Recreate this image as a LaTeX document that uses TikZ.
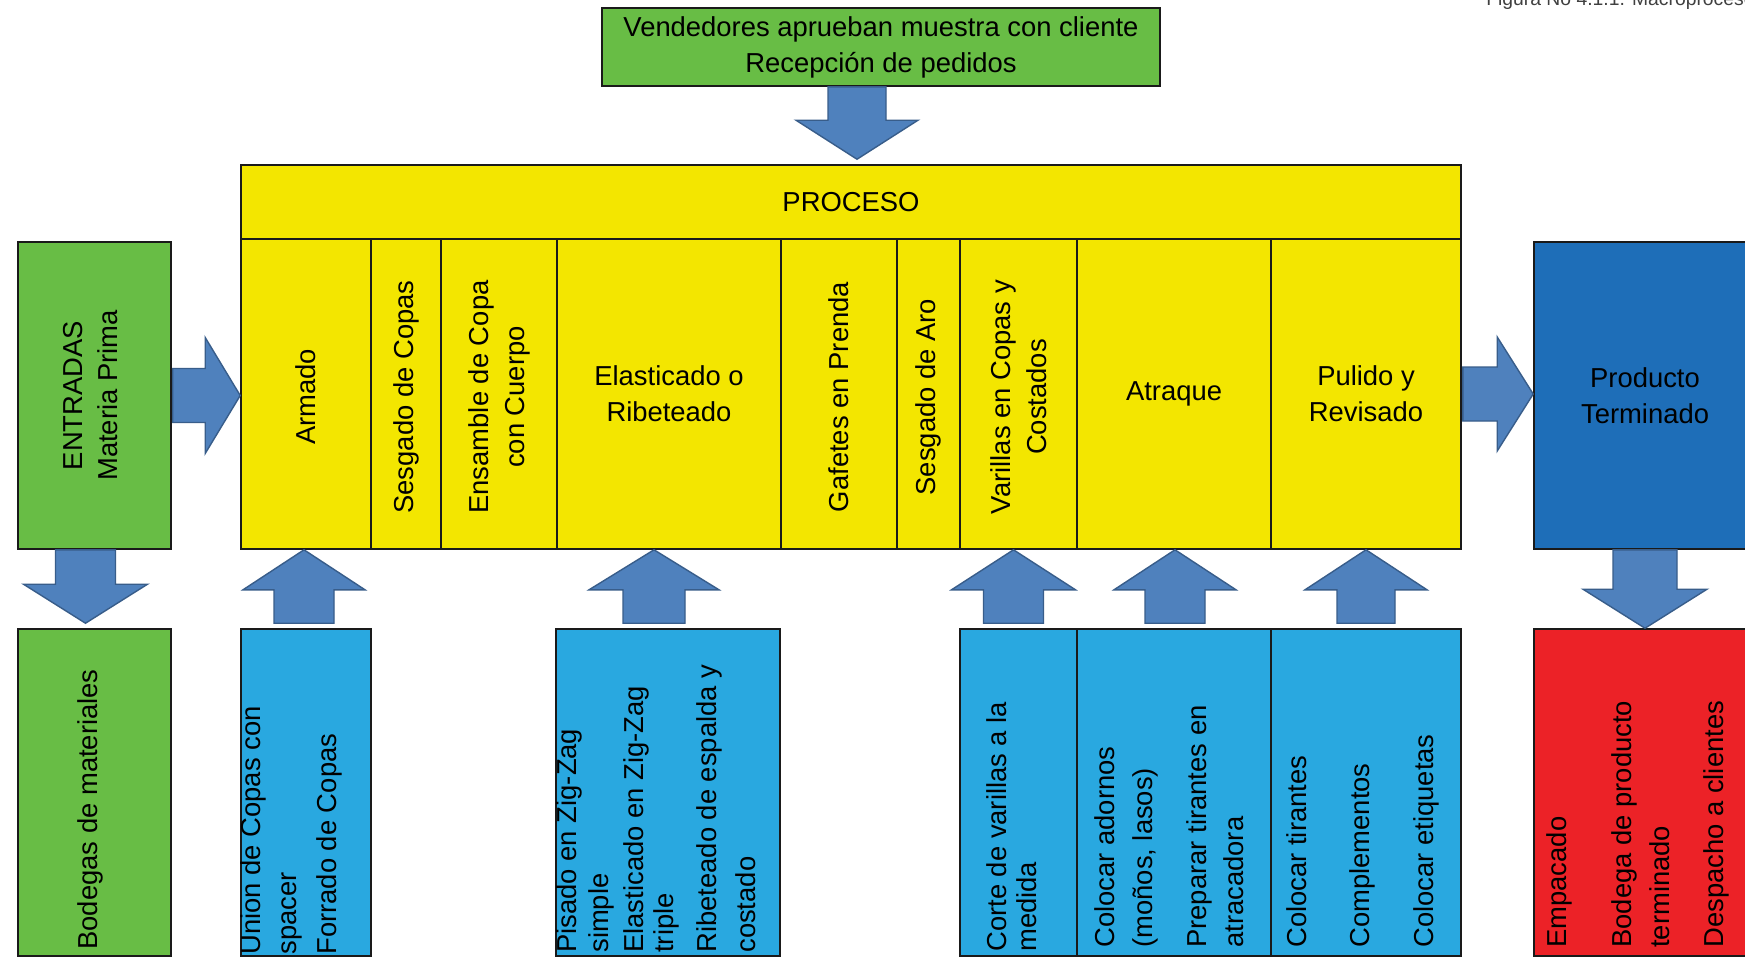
\documentclass[tikz,border=0pt]{standalone}
\usepackage{fontspec}
\setmainfont{Liberation Sans}
\usetikzlibrary{calc,fit}

\definecolor{grn}{HTML}{68BD45}
\definecolor{yel}{HTML}{F3E600}
\definecolor{lblue}{HTML}{29A8E0}
\definecolor{dblue}{HTML}{1E6EB8}
\definecolor{rd}{HTML}{EC2227}
\definecolor{arrfill}{HTML}{4F81BD}
\definecolor{arrline}{HTML}{385D8A}
\definecolor{edge}{HTML}{1A1A1A}

\tikzset{
  cell/.style={draw=edge, line width=0.9pt, inner sep=0pt, fit={#1}},
  greencell/.style={cell={#1}, fill=grn},
  yellowcell/.style={cell={#1}, fill=yel},
  bluecell/.style={cell={#1}, fill=lblue},
  darkcell/.style={cell={#1}, fill=dblue},
  redcell/.style={cell={#1}, fill=rd},
  txt/.style={inner sep=0pt, text=black, align=center,
              font=\fontsize{15.6}{20.4}\selectfont},
  vtxt/.style={txt, rotate=90},
  linetxt/.style={txt, rotate=90, anchor=west},
  captxt/.style={inner sep=0pt, text=black!75, font=\fontsize{11}{13}\selectfont},
  blockarrow/.style={fill=arrfill, draw=arrline, line width=0.8pt, line join=miter},
}

% vertical block arrow: tail, tip, shaft half width, head half width, signed head length
\newcommand{\blkvert}[5]{%
  \draw[blockarrow] ($(#1)+(-#3,0)$) -- ($(#2)+(-#3,#5)$) -- ($(#2)+(-#4,#5)$) -- (#2)
    -- ($(#2)+(#4,#5)$) -- ($(#2)+(#3,#5)$) -- ($(#1)+(#3,0)$) -- cycle;}
% horizontal block arrow: tail, tip, shaft half height, head half height, signed head length
\newcommand{\blkhorz}[5]{%
  \draw[blockarrow] ($(#1)+(0,-#3)$) -- ($(#2)+(#5,-#3)$) -- ($(#2)+(#5,-#4)$) -- (#2)
    -- ($(#2)+(#5,#4)$) -- ($(#2)+(#5,#3)$) -- ($(#1)+(0,#3)$) -- cycle;}

\begin{document}
\begin{tikzpicture}[x=0.02cm, y=-0.02cm]
\path[use as bounding box, fill=white] (0,0) rectangle (1745,958);
\clip (0,0) rectangle (1745,958);

% figure caption, cut by the page edge
\node[captxt, anchor=base west] (cap) at (1486,5) {Figura No 4.1.1. Macroproceso};

% orders box
\node[greencell={(602,8) (1160,86)}] (top) {};
\node[txt] (topT) at (top.center) {Vendedores aprueban muestra con cliente\\Recepción de pedidos};

% process block
\node[yellowcell={(241,165) (1461,239)}] (procHead) {};
\node[txt] (procT) at (procHead.center) {PROCESO};
\node[yellowcell={(241,239) (371,549)}]  (cArm) {};
\node[yellowcell={(371,239) (441,549)}]  (cSes) {};
\node[yellowcell={(441,239) (557,549)}]  (cEns) {};
\node[yellowcell={(557,239) (781,549)}]  (cEla) {};
\node[yellowcell={(781,239) (897,549)}]  (cGaf) {};
\node[yellowcell={(897,239) (960,549)}]  (cSar) {};
\node[yellowcell={(960,239) (1077,549)}] (cVar) {};
\node[yellowcell={(1077,239) (1271,549)}] (cAtr) {};
\node[yellowcell={(1271,239) (1461,549)}] (cPul) {};
\node[vtxt] (lArm) at ($(cArm.center)+(0,3)$) {Armado};
\node[vtxt] (lSes) at ($(cSes.center)+(0,3)$) {Sesgado de Copas};
\node[vtxt] (lEns) at ($(cEns.center)+(0,3)$) {Ensamble de Copa\\con Cuerpo};
\node[txt]  (lEla) at (cEla.center) {Elasticado o\\Ribeteado};
\node[vtxt] (lGaf) at ($(cGaf.center)+(0,3)$) {Gafetes en Prenda};
\node[vtxt] (lSar) at ($(cSar.center)+(0,3)$) {Sesgado de Aro};
\node[vtxt] (lVar) at ($(cVar.center)+(0,3)$) {Varillas en Copas y\\Costados};
\node[txt]  (lAtr) at (cAtr.center) {Atraque};
\node[txt]  (lPul) at (cPul.center) {Pulido y\\Revisado};

% inputs and outputs
\node[greencell={(18,242) (171,549)}] (ent) {};
\node[vtxt] (entT) at ($(ent.center)+(-4,0)$) {ENTRADAS\\Materia Prima};
\node[darkcell={(1534,242) (1756,549)}] (prod) {};
\node[txt] (prodT) at (prod.center) {Producto\\Terminado};

% lower boxes
\node[greencell={(18,629) (171,956)}] (bBod) {};
\node[bluecell={(241,629) (371,956)}] (bArm) {};
\node[bluecell={(556,629) (780,956)}] (bPis) {};
\node[bluecell={(960,629) (1077,956)}] (bCor) {};
\node[bluecell={(1077,629) (1271,956)}] (bAdo) {};
\node[bluecell={(1271,629) (1461,956)}] (bTir) {};
\node[redcell={(1534,629) (1756,956)}] (bRed) {};

\node[linetxt] (tBod) at (90,950) {Bodegas de materiales};

\node[linetxt] (tArm1) at (253,955) {Union de Copas con};
\node[linetxt] (tArm2) at (292,955) {spacer};
\node[linetxt] (tArm3) at (329,955) {Forrado de Copas};

\node[linetxt] (tPis1) at (569,953) {Pisado en Zig-Zag};
\node[linetxt] (tPis2) at (601,953) {simple};
\node[linetxt] (tPis3) at (636,953) {Elasticado en Zig-Zag};
\node[linetxt] (tPis4) at (666,953) {triple};
\node[linetxt] (tPis5) at (709,953) {Ribeteado de espalda y};
\node[linetxt] (tPis6) at (746,953) {costado};

\node[linetxt] (tCor1) at (997,952) {Corte de varillas a la};
\node[linetxt] (tCor2) at (1027,952) {medida};

\node[linetxt] (tAdo1) at (1105,948) {Colocar adornos};
\node[linetxt] (tAdo2) at (1145,948) {(moños, lasos)};
\node[linetxt] (tAdo3) at (1199,948) {Preparar tirantes en};
\node[linetxt] (tAdo4) at (1234,948) {atracadora};

\node[linetxt] (tTir1) at (1297,948) {Colocar tirantes};
\node[linetxt] (tTir2) at (1362,948) {Complementos};
\node[linetxt] (tTir3) at (1426,948) {Colocar etiquetas};

\node[linetxt] (tRed1) at (1559,948) {Empacado};
\node[linetxt] (tRed2) at (1624,948) {Bodega de producto};
\node[linetxt] (tRed3) at (1660,948) {terminado};
\node[linetxt] (tRed4) at (1716,948) {Despacho a clientes};

% block arrows between the boxes
\coordinate (aTopT) at ($(procHead.north |- top.south)+(6,0)$);
\coordinate (aTopH) at ($(aTopT |- procHead.north)+(0,-5)$);
\blkvert{aTopT}{aTopH}{29}{61}{-39}

\coordinate (aEntT) at ($(ent.east)+(1,0)$);
\coordinate (aEntH) at (aEntT -| cArm.west);
\blkhorz{aEntT}{aEntH}{27}{58}{-35}

\coordinate (aProT) at ($(cPul.east)+(1,0)$);
\coordinate (aProH) at (aProT -| prod.west);
\blkhorz{aProT}{aProH}{27}{57}{-36}

\coordinate (aBodT) at ($(ent.south)+(-9,0)$);
\coordinate (aBodH) at ($(aBodT |- bBod.north)+(0,-5)$);
\blkvert{aBodT}{aBodH}{30}{62}{-39}

\coordinate (aRedT) at (prod.south);
\coordinate (aRedH) at (aRedT |- bRed.north);
\blkvert{aRedT}{aRedH}{32}{62}{-39}

\coordinate (aArmT) at ($(bArm.north)+(-2,-5)$);
\coordinate (aArmH) at (aArmT |- cArm.south);
\blkvert{aArmT}{aArmH}{30}{61}{40}

\coordinate (aPisT) at ($(bPis.north)+(-14,-5)$);
\coordinate (aPisH) at (aPisT |- cEla.south);
\blkvert{aPisT}{aPisH}{31}{65}{40}

\coordinate (aCorT) at ($(bCor.north)+(-5,-5)$);
\coordinate (aCorH) at (aCorT |- cVar.south);
\blkvert{aCorT}{aCorH}{30}{62}{40}

\coordinate (aAdoT) at ($(bAdo.north)+(1,-5)$);
\coordinate (aAdoH) at (aAdoT |- cAtr.south);
\blkvert{aAdoT}{aAdoH}{30}{61}{40}

\coordinate (aTirT) at ($(bTir.north)+(0,-5)$);
\coordinate (aTirH) at (aTirT |- cPul.south);
\blkvert{aTirT}{aTirH}{29}{61}{40}
\end{tikzpicture}
\end{document}
